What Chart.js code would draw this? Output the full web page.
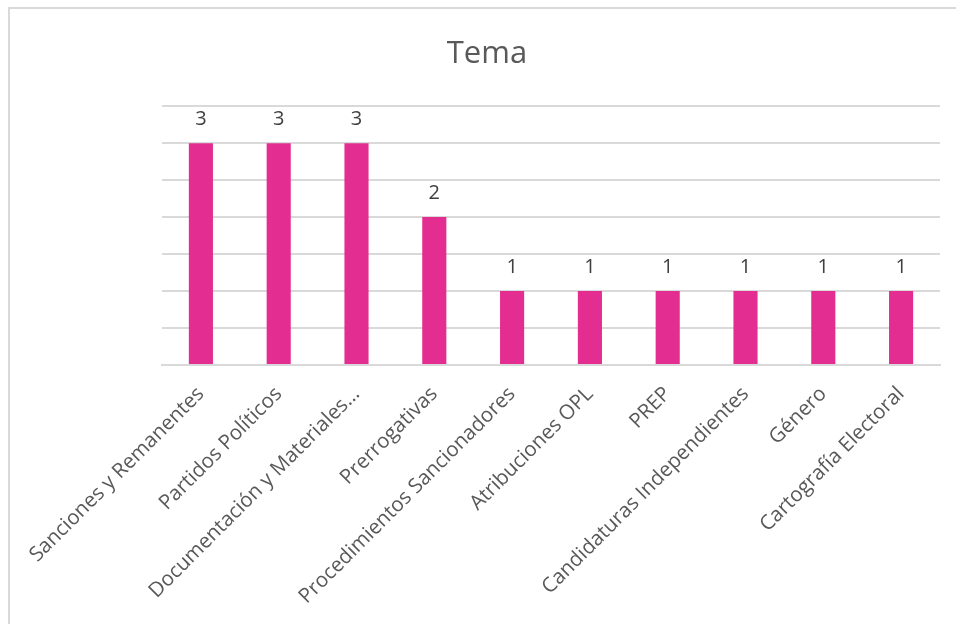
<!DOCTYPE html>
<html>
<head>
<meta charset="utf-8">
<script src="https://cdn.jsdelivr.net/npm/chart.js@4"></script>
<style>
  html, body { margin: 0; padding: 0; background: #fff; overflow: hidden; }
  #wrap { position: relative; width: 956px; height: 624px; }
  #frame { position: absolute; left: 8px; top: 7px; width: 960px; height: 640px; border: 2px solid #d9d9d9; pointer-events: none; }
</style>
</head>
<body>
<div id="wrap">
  <canvas id="temaChart" width="956" height="624"></canvas>
  <div id="frame"></div>
</div>
<script>
// data
const categories = ['Sanciones y Remanentes', 'Partidos Políticos', 'Documentación y Materiales...', 'Prerrogativas',
    'Procedimientos Sancionadores', 'Atribuciones OPL', 'PREP', 'Candidaturas Independientes', 'Género', 'Cartografía Electoral'];
const counts = [3, 3, 3, 2, 1, 1, 1, 1, 1, 1];

// value labels above bars
const barLabels = {
    id: 'barLabels',
    afterDatasetsDraw(chart) {
        const ctx = chart.ctx;
        const meta = chart.getDatasetMeta(0);
        ctx.save();
        ctx.font = '20px "Open Sans", sans-serif';
        ctx.fillStyle = '#404040';
        ctx.textAlign = 'center';
        ctx.textBaseline = 'alphabetic';
        meta.data.forEach((bar, i) => {
            ctx.fillText(String(counts[i]), bar.x, bar.y - 18);
        });
        ctx.restore();
    }
};

new Chart(document.getElementById('temaChart'), {
    type: 'bar',
    data: {
        labels: categories,
        datasets: [{
            data: counts,
            backgroundColor: '#E32D91',
            barPercentage: 0.31,
            categoryPercentage: 1
        }]
    },
    options: {
        responsive: false,
        animation: false,
        layout: { padding: { left: 18, right: 0, top: 0, bottom: 0 } },
        plugins: {
            legend: { display: false },
            tooltip: { enabled: false },
            title: {
                display: true,
                text: 'Tema',
                color: '#595959',
                font: { family: '"Open Sans", sans-serif', size: 31, weight: 'normal' },
                padding: { top: 36, bottom: 33 }
            }
        },
        scales: {
            x: {
                grid: { display: false },
                border: { color: '#d9d9d9', width: 2 },
                ticks: {
                    color: '#595959',
                    font: { family: '"Open Sans", sans-serif', size: 20.5 },
                    minRotation: 45,
                    maxRotation: 45,
                    autoSkip: false,
                    padding: 9
                },
                afterFit(scale) {
                    scale.height = 259;
                    scale.paddingLeft = 0;
                    scale.paddingRight = 16;
                }
            },
            y: {
                min: 0,
                max: 3.5,
                ticks: { stepSize: 0.5, display: false },
                grid: { color: '#d9d9d9', lineWidth: 2, drawTicks: false },
                border: { display: false },
                afterFit(scale) {
                    scale.width = 144;
                }
            }
        }
    },
    plugins: [barLabels]
});
</script>
</body>
</html>
